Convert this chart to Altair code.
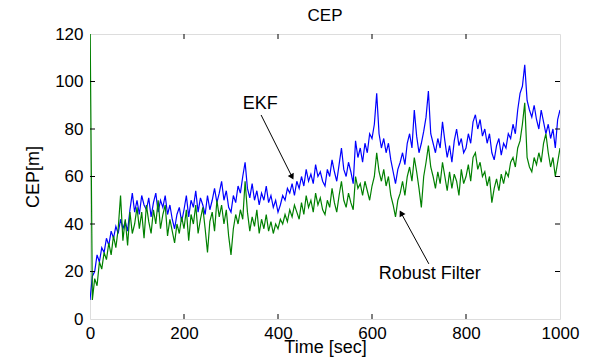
import altair as alt
import pandas as pd

step = 5
ekf = [
    8, 18, 20, 27, 24, 30, 28, 34, 31, 37, 34, 39, 36, 42, 38, 41, 37, 46, 53, 45,
    50, 44, 52, 48, 46, 51, 43, 49, 53, 45, 50, 47, 52, 44, 48, 42, 38, 44, 47, 41,
    46, 52, 43, 50, 47, 54, 45, 51, 48, 44, 52, 46, 50, 55, 49, 53, 58, 50, 54, 47,
    45, 52, 49, 56, 53, 60, 66, 55, 51, 57, 50, 54, 48, 53, 50, 56, 49, 52, 47, 50,
    45, 48, 52, 50, 55, 53, 57, 52, 58, 55, 60, 56, 63, 58, 61, 57, 65, 60, 62, 58,
    56, 63, 60, 67, 62, 58, 65, 72, 63, 60, 66, 62, 57, 75, 68, 72, 66, 74, 70, 78,
    76, 82, 95, 78, 72, 76, 70, 74, 67, 62, 57, 63, 66, 70, 65, 74, 78, 72, 88, 77,
    70, 74, 79, 85, 96, 78, 74, 70, 76, 72, 83, 75, 68, 73, 66, 75, 80, 73, 76, 70,
    72, 78, 74, 83, 86, 80, 84, 77, 80, 74, 78, 70, 67, 73, 76, 69, 74, 72, 78, 76,
    82, 78, 88, 95, 98, 107, 92, 88, 85, 90, 84, 80, 88, 83, 78, 82, 76, 80, 72, 84, 88,
]
robust = [
    130, 8, 17, 14, 24, 21, 28, 25, 32, 27, 35, 30, 38, 52, 33, 42, 31, 45, 36, 40,
    47, 38, 45, 34, 48, 41, 36, 46, 40, 50, 38, 44, 48, 35, 42, 37, 32, 40, 36, 43,
    38, 46, 33, 44, 40, 48, 36, 42, 47, 38, 28, 41, 45, 37, 50, 43, 48, 40, 46, 35,
    27, 38, 44, 40, 46, 42, 58, 45, 37, 43, 39, 46, 36, 42, 38, 44, 37, 41, 36, 40,
    38, 42, 40, 44, 41, 46, 43, 48, 45, 42, 49, 44, 52, 47, 50, 45, 53, 48, 51, 46,
    44, 50, 47, 55, 49, 45, 52, 58, 50, 47, 53, 49, 46, 60, 55, 57, 52, 58, 54, 50,
    56, 60, 70, 62, 58, 63, 56, 60, 52, 48, 43, 50, 53, 58, 52, 60, 64, 58, 68, 62,
    55, 47, 60, 66, 73, 64, 60, 55, 62, 57, 66, 60, 54, 62, 55, 61, 58, 52, 63, 57,
    60, 65, 58, 68, 70, 63, 66, 60, 62, 56, 60, 49, 55, 59, 54, 61, 57, 62, 60, 66,
    68, 64, 72, 75, 82, 91, 68, 64, 62, 68, 65, 70, 66, 74, 78, 70, 64, 68, 60, 66, 72,
]
x_ticks = [200, 400, 600, 800]
y_ticks = [20, 40, 60, 80, 100]

labels = ["EKF", "Robust Filter"]
label_t = [362, 723]
label_v = [90.5, 19]
arrow_t = [364, 721]
arrow_v = [85.9, 23.2]
arrow_t2 = [430, 662]
arrow_v2 = [59.8, 44.6]
arrow_angle = [153, 331]

W, H = 470, 285
FONT = "Liberation Sans"

t = [i * step for i in range(len(ekf))]
df_ekf = pd.DataFrame({"t": t, "v": ekf})
df_rob = pd.DataFrame({"t": t, "v": robust})

xs = alt.Scale(domain=[0, 1000], nice=False)
ys = alt.Scale(domain=[0, 120], nice=False)

base_x = alt.X("t:Q", scale=xs, axis=alt.Axis(
    title="Time [sec]", values=[0, 200, 400, 600, 800, 1000], format="d", tickSize=0,
    domain=False, grid=False, labelFont=FONT, labelFontSize=17, labelColor="black",
    labelPadding=6, titleFont=FONT, titleFontSize=18, titleFontWeight="normal",
    titleColor="black", titlePadding=-3, labelFlush=False))
base_y = alt.Y("v:Q", scale=ys, axis=alt.Axis(
    title="CEP[m]", values=[0, 20, 40, 60, 80, 100, 120], format="d", tickSize=0,
    domain=False, grid=False, labelFont=FONT, labelFontSize=17, labelColor="black",
    labelPadding=7, titleFont=FONT, titleFontSize=18, titleFontWeight="normal",
    titleColor="black", titlePadding=12, labelFlush=False))

blue = alt.Chart(df_ekf).mark_line(color="#0000FF", strokeWidth=1.2, clip=True).encode(
    x=base_x, y=base_y)
green = alt.Chart(df_rob).mark_line(color="#008000", strokeWidth=1.2, clip=True).encode(
    x=alt.X("t:Q", scale=xs), y=alt.Y("v:Q", scale=ys))

df_yt = pd.DataFrame({"v": y_ticks})
df_xt = pd.DataFrame({"t": x_ticks})
tick_style = dict(color="black", strokeWidth=1)
ly = alt.Chart(df_yt).mark_rule(**tick_style).encode(
    y=alt.Y("v:Q", scale=ys), x=alt.value(0), x2=alt.value(5))
ry = alt.Chart(df_yt).mark_rule(**tick_style).encode(
    y=alt.Y("v:Q", scale=ys), x=alt.value(W - 5), x2=alt.value(W))
bx = alt.Chart(df_xt).mark_rule(**tick_style).encode(
    x=alt.X("t:Q", scale=xs), y=alt.value(H - 5), y2=alt.value(H))
tx = alt.Chart(df_xt).mark_rule(**tick_style).encode(
    x=alt.X("t:Q", scale=xs), y=alt.value(0), y2=alt.value(5))

df_lab = pd.DataFrame({"label": labels, "t": label_t, "v": label_v})
text = alt.Chart(df_lab).mark_text(font=FONT, fontSize=18, color="black").encode(
    x=alt.X("t:Q", scale=xs), y=alt.Y("v:Q", scale=ys), text="label:N")

df_arr = pd.DataFrame({"t": arrow_t, "v": arrow_v, "t2": arrow_t2, "v2": arrow_v2,
                       "ang": arrow_angle})
arr_line = alt.Chart(df_arr).mark_rule(color="black", strokeWidth=1).encode(
    x=alt.X("t:Q", scale=xs), y=alt.Y("v:Q", scale=ys), x2="t2:Q", y2="v2:Q")
arr_head = alt.Chart(df_arr).mark_point(shape="triangle-up", filled=True, color="black",
                                        size=45, opacity=1).encode(
    x=alt.X("t2:Q", scale=xs), y=alt.Y("v2:Q", scale=ys),
    angle=alt.Angle("ang:Q", scale=None))

chart = alt.layer(blue, green, ly, ry, bx, tx, text, arr_line, arr_head).properties(
    width=W, height=H,
    title=alt.Title("CEP", font=FONT, fontSize=17, fontWeight="normal", color="black",
                    offset=0),
    autosize=alt.AutoSizeParams(type="none"),
    padding={"left": 82, "top": 26, "right": 22, "bottom": 42},
).configure_view(stroke="black", strokeWidth=1).configure(background="white")

chart.save("out.html", embed_options={"renderer": "svg", "actions": False})
